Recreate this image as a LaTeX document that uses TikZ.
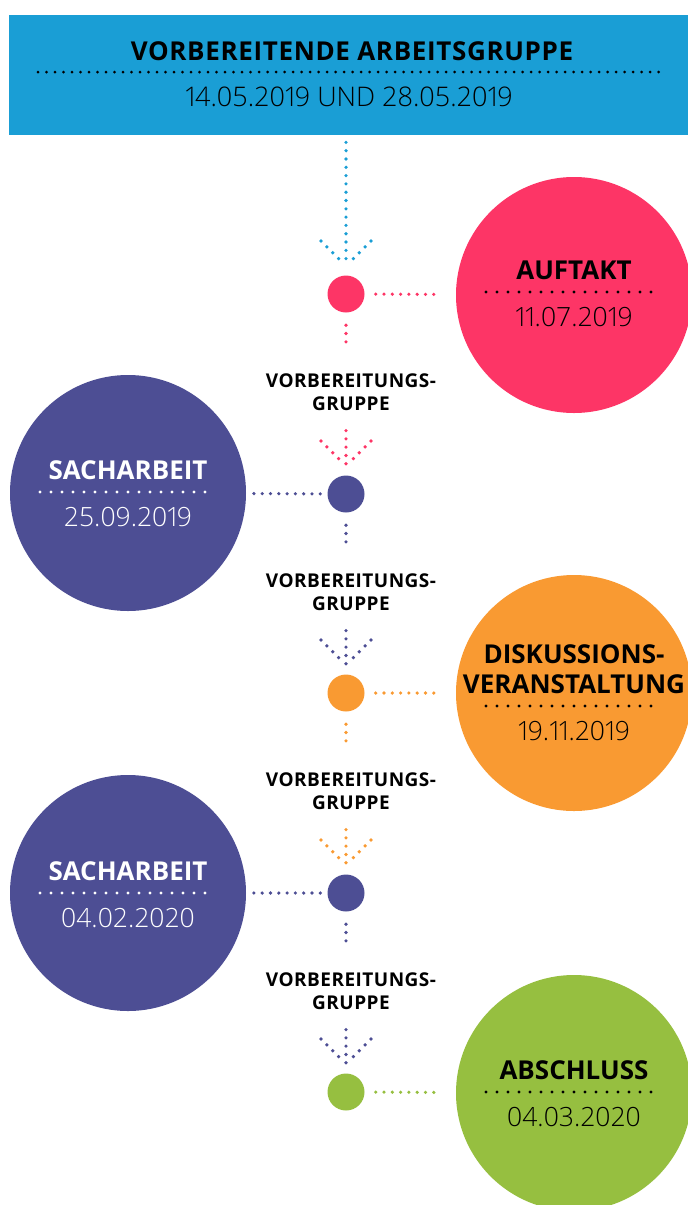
\documentclass[tikz,border=0pt]{standalone}
\usepackage{fontspec}
\setmainfont{Open Sans}
\newfontfamily\lightfont[Numbers=Proportional]{Open Sans Light}
\newfontfamily\spacedfont[LetterSpace=2.5]{Open Sans}
\usetikzlibrary{positioning}
\definecolor{headblue}{HTML}{1A9ED5}
\definecolor{pinkc}{HTML}{FD3566}
\definecolor{purp}{HTML}{4D4E94}
\definecolor{orng}{HTML}{F99A32}
\definecolor{grn}{HTML}{96BF40}
\tikzstyle{bigdisc}=[circle,minimum size=236pt,inner sep=0pt]
\tikzstyle{dot}=[circle,minimum size=37pt,inner sep=0pt]
\tikzstyle{linkdots}=[line width=3.6pt,line cap=round,dash pattern=on 0pt off 8.3pt]
\tikzstyle{sepdots}=[line width=3.2pt,line cap=round,dash pattern=on 0pt off 11pt]
\tikzstyle{headtitle}=[font=\fontsize{26}{30}\spacedfont\bfseries,inner sep=0pt]
\tikzstyle{circtitle}=[font=\fontsize{26}{30}\selectfont\bfseries,align=center,inner sep=0pt]
\tikzstyle{datetext}=[font=\fontsize{26.5}{30}\lightfont,inner sep=0pt]
\tikzstyle{prep}=[font=\fontsize{19}{23}\spacedfont\bfseries,align=center,inner sep=0pt]

\begin{document}
\begin{tikzpicture}[x=1pt,y=-1pt]
  \useasboundingbox (0,0) rectangle (688,1205);
  \clip (0,0) rectangle (688,1205);
  % header box
  \node[fill=headblue,minimum width=679pt,minimum height=120pt,inner sep=0pt,anchor=north west] (head) at (9,15) {};
  \node[headtitle,anchor=base] (headline) at (352,60) {VORBEREITENDE ARBEITSGRUPPE};
  \draw[sepdots,line width=3pt,dash pattern=on 0pt off 8.5pt] (38,72) -- (665,72);
  \node[datetext,font=\fontsize{27}{30}\lightfont,anchor=base] (headdate) at (349,106) {14.05.2019 UND 28.05.2019};
  % timeline
  \foreach \name/\y/\col in {d1/294/pinkc, d2/494/purp, d3/693/orng,
                             d4/893/purp, d5/1092/grn}
    \node[dot,fill=\col] (\name) at (346,\y) {};
  \foreach \name/\x/\y/\col/\txt/\s/\title/\date in
      {auftakt/574/295/pinkc/black/-3/{AUFTAKT}/{11.07.2019},
       sach1/128/493/purp/white/-1/{SACHARBEIT}/{25.09.2019},
       disk/574/693/orng/black/13/{DISKUSSIONS-\\VERANSTALTUNG}/{19.11.2019},
       sach2/128/893/purp/white/0/{SACHARBEIT}/{04.02.2020},
       abschluss/574/1093/grn/black/-1/{ABSCHLUSS}/{04.03.2020}}
    {
      \node[bigdisc,fill=\col] (\name) at (\x,\y) {};
      \draw[sepdots,\txt] (\name) ++(-88,\s) -- ++(176,0);
      \path (\name) ++(0,\s-12) node[circtitle,text=\txt,anchor=south] {\title};
      \path (\name) ++(0,\s+34) node[datetext,text=\txt,anchor=base] {\date};
    }
  \draw[linkdots,pinkc,shorten <=11pt,shorten >=16pt] (d1) -- (auftakt);
  \draw[linkdots,purp,shorten <=7pt,shorten >=7pt] (d2) -- (sach1);
  \draw[linkdots,orng,shorten <=11pt,shorten >=16pt] (d3) -- (disk);
  \draw[linkdots,purp,shorten <=7pt,shorten >=7pt] (d4) -- (sach2);
  \draw[linkdots,grn,shorten <=11pt,shorten >=16pt] (d5) -- (abschluss);
  % arrows
  \draw[linkdots,headblue,shorten <=7pt,shorten >=8.5pt] (head.south -| d1) -- (d1);
  \draw[linkdots,headblue] (d1) ++(-25,-53) -- ++(19,19);
  \draw[linkdots,headblue] (d1) ++(25,-53) -- ++(-19,19);
  \foreach \a/\b/\col/\p in {d1/d2/pinkc/p1, d2/d3/purp/p2,
                             d3/d4/orng/p3, d4/d5/purp/p4}
    {
      \node[prep,below=60.5pt of \a,xshift=5pt] (\p) {VORBEREITUNGS-\\GRUPPE};
      \draw[linkdots,\col,shorten <=12.5pt,shorten >=24pt] (\a) -- (\p.north -| \a);
      \draw[linkdots,\col,shorten <=20pt,shorten >=8.5pt] (\p.south -| \b) -- (\b);
      \draw[linkdots,\col] (\b) ++(-25,-53) -- ++(19,19);
      \draw[linkdots,\col] (\b) ++(25,-53) -- ++(-19,19);
    }
\end{tikzpicture}
\end{document}
